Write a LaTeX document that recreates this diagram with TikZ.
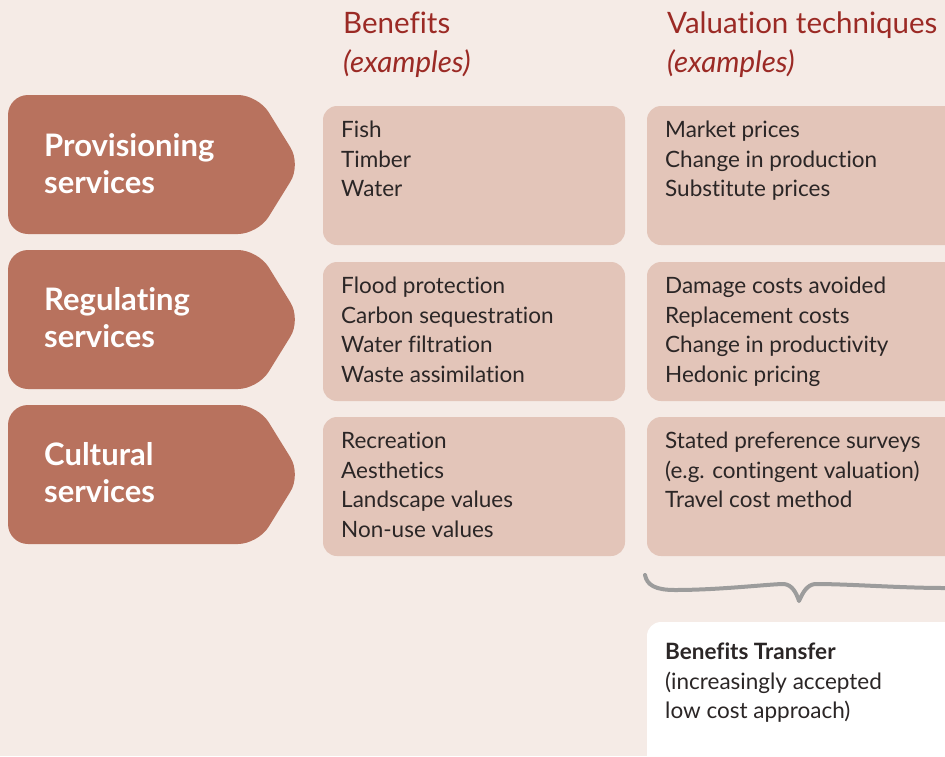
\documentclass[tikz,border=0pt]{standalone}
\usepackage{fontspec}
\setmainfont[Ligatures={NoCommon}]{Lato}
\definecolor{pagebg}{HTML}{F5EBE6}
\definecolor{arrowfill}{HTML}{B8725E}
\definecolor{boxfill}{HTML}{E3C5B9}
\definecolor{headred}{HTML}{9B2A25}
\definecolor{bodytext}{HTML}{2B2626}
\definecolor{bracegray}{HTML}{9C9C9C}
\tikzset{
  svcarrow/.style={fill=arrowfill, rounded corners=20pt},
  infobox/.style={fill=boxfill, rounded corners=14pt},
  notebox/.style={fill=white, rounded corners=14pt},
  svclabel/.style={anchor=north west, inner sep=0pt, align=left, text=white,
    font=\fontsize{31}{37}\selectfont\bfseries},
  boxtext/.style={anchor=north west, inner sep=0pt, align=left, text=bodytext,
    font=\fontsize{22.5}{29.5}\selectfont},
  heading/.style={anchor=north west, inner sep=0pt, align=left, text=headred,
    font=\fontsize{29.5}{39}\selectfont},
}
\begin{document}
\begin{tikzpicture}[x=1pt,y=-1pt]
\fill[pagebg] (0,0) rectangle (945,756);
\useasboundingbox (0,0) rectangle (945,756);

% column headings
\node[heading] (hben) at (343,12) {Benefits\\\itshape (examples)};
\node[heading] (hval) at (667,12) {Valuation techniques\\\itshape (examples)};

% service arrows, one per row
\foreach \t in {95,250,405}{
  \fill[svcarrow] (8,\t) -- (258,\t) -- (301,\t+69.5) -- (258,\t+139) -- (8,\t+139) -- cycle;
}
\node[svclabel] (lprov) at (44,133) {Provisioning\\services};
\node[svclabel] (lreg) at (44,287) {Regulating\\services};
\node[svclabel] (lcult) at (44,442) {Cultural\\services};

% benefit and valuation boxes
\foreach \t in {106,262,417}{
  \fill[infobox] (323,\t) rectangle (625,\t+139);
  \fill[infobox] (647,\t) rectangle (965,\t+139);
}
\node[boxtext] (bprov) at (341,121) {Fish\\Timber\\Water};
\node[boxtext] (vprov) at (665,121) {Market prices\\Change in production\\Substitute prices};
\node[boxtext] (breg) at (341,277) {Flood protection\\Carbon sequestration\\Water filtration\\Waste assimilation};
\node[boxtext] (vreg) at (665,277) {Damage costs avoided\\Replacement costs\\Change in productivity\\Hedonic pricing};
\node[boxtext] (bcult) at (341,432) {Recreation\\Aesthetics\\Landscape values\\Non-use values};
\node[boxtext] (vcult) at (665,432) {Stated preference surveys\\(e.g. contingent valuation)\\Travel cost method};

% brace grouping the valuation column
\coordinate (brL) at (645,575);
\coordinate (brT) at (799,601);
\coordinate (brR) at (945,588);
\draw[bracegray, line width=4pt, line cap=round, line join=round]
  (brL) .. controls (647,585) and (655,590) .. (675,590)
  .. controls (720,590) and (770,584) .. (784,584)
  .. controls (792,585) and (796,592) .. (brT)
  .. controls (803,592) and (807,585) .. (815,584)
  .. controls (850,584) and (900,588) .. (brR);

% benefits transfer note
\fill[notebox] (647,622) rectangle (965,780);
\node[boxtext] (note) at (665,643) {\textbf{Benefits Transfer}\\(increasingly accepted\\low cost approach)};
\end{tikzpicture}
\end{document}
